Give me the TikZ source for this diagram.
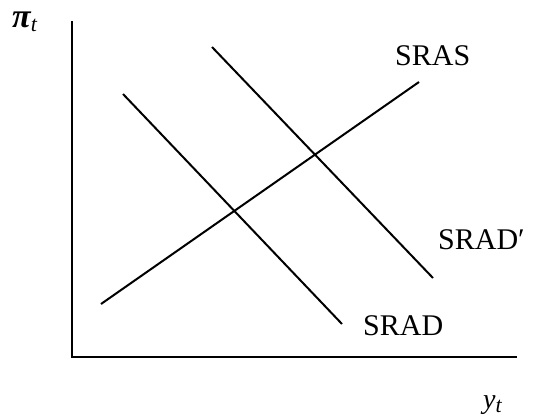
\documentclass[tikz,border=0pt]{standalone}
\usepackage{fontspec}
\setmainfont{Liberation Serif}
\begin{document}
\begin{tikzpicture}[x=1pt,y=-1pt,
  curveline/.style={line width=2pt},
  axisline/.style={line width=2.4pt},
  lbl/.style={inner sep=0pt, anchor=base west, font=\fontsize{30}{36}\selectfont},
  axlbl/.style={inner sep=0pt, anchor=base west, font=\fontsize{28}{34}\selectfont\itshape}]
\useasboundingbox (0,0) rectangle (536,416);
\coordinate (ytop) at (72,21);
\coordinate (o) at (72,357);
\coordinate (xend) at (517,357);
\draw[axisline] (ytop) -- (o) -- (xend);
\coordinate (sras1) at (101,304);
\coordinate (sras2) at (419,82);
\coordinate (srad1) at (123,94);
\coordinate (srad2) at (342,324);
\coordinate (sradp1) at (212,47);
\coordinate (sradp2) at (433,278);
\draw[curveline] (sras1) -- (sras2);
\draw[curveline] (srad1) -- (srad2);
\draw[curveline] (sradp1) -- (sradp2);
\node[lbl] (lsras) at (395,65) {SRAS};
\node[lbl] (lsradp) at (438,249) {SRAD′};
\node[lbl] (lsrad) at (363,335) {SRAD};
\node[axlbl] (lpi) at (12,27) {\fontsize{34}{40}\selectfont\bfseries π\raisebox{-4pt}{\fontsize{22}{26}\selectfont\mdseries t}};
\node[axlbl] (ly) at (483,408) {y\raisebox{-4pt}{\fontsize{22}{26}\selectfont t}};
\end{tikzpicture}
\end{document}
